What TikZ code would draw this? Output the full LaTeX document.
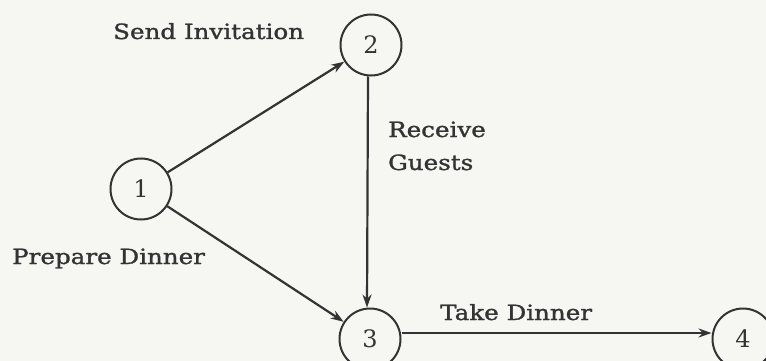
\documentclass[tikz,border=0pt]{standalone}
\usepackage{fontspec}
\setmainfont{DejaVu Serif}
\newfontfamily\labelfont[FakeBold=1.2]{DejaVu Serif}
\usetikzlibrary{arrows.meta}
\definecolor{ink}{HTML}{333333}
\definecolor{paper}{HTML}{F6F6F3}
\newcommand{\widetext}[1]{\scalebox{1.17}[1]{#1}}
\begin{document}
\begin{tikzpicture}[x=1pt,y=-1pt,
  event/.style={circle,draw=ink,line width=2pt,minimum size=61pt,inner sep=0pt,font=\fontsize{24}{26}\selectfont,text=ink},
  act/.style={draw=ink,line width=2.2pt,-{Stealth[length=13pt,width=9pt]}},
  lbl/.style={text=ink,font=\labelfont\fontsize{21}{26}\selectfont,inner sep=0pt,anchor=base west}]
\fill[paper] (0,0) rectangle (766,361);
\useasboundingbox (0,0) rectangle (766,361);
\node[event] (n1) at (141,189) {1};
\node[event] (n2) at (371,45) {2};
\node[event] (n3) at (370,339) {3};
\node[event] (n4) at (743,339) {4};
\draw[act] (n1) -- (n2);
\draw[act] ([xshift=-3pt]n2.south) -- ([xshift=-3pt]n3.north);
\draw[act] (n1) -- (n3);
\draw[act] ([yshift=6pt]n3.east) -- ([yshift=6pt]n4.west);
\node[lbl] (t1) at (113,39) {\widetext{Send Invitation}};
\node[lbl] (t2) at (388,137) {\widetext{Receive}};
\node[lbl] (t3) at (388,170) {\widetext{Guests}};
\node[lbl] (t4) at (12,264) {\widetext{Prepare Dinner}};
\node[lbl] (t5) at (440,320) {\widetext{Take Dinner}};
\end{tikzpicture}
\end{document}
